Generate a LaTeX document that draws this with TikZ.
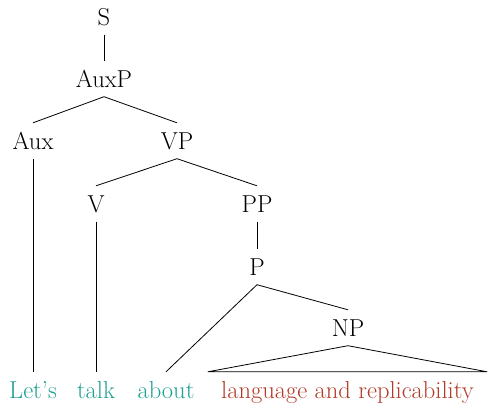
\documentclass[tikz,border=0pt]{standalone}
\definecolor{leafteal}{RGB}{30,160,146}
\definecolor{leafred}{RGB}{176,58,40}
\tikzset{
  lab/.style={anchor=base,font=\fontsize{24.5}{29}\selectfont,inner xsep=2pt,inner ysep=9.5pt,text height=16.5pt,text depth=0pt},
  tealleaf/.style={lab,text=leafteal},
  redleaf/.style={lab,text=leafred},
  br/.style={line width=0.8pt,black}
}
\begin{document}
\begin{tikzpicture}[x=1pt,y=-1pt]
\useasboundingbox (0,0) rectangle (489,413);
\node[lab] (S) at (104,25) {S};
\node[lab] (AuxP) at (104,87) {AuxP};
\node[lab] (Aux) at (33,149) {Aux};
\node[lab] (VP) at (177,149) {VP};
\node[lab] (V) at (96,212) {V};
\node[lab] (PP) at (257,212) {PP};
\node[lab] (P) at (257,275) {P};
\node[lab] (NP) at (348,336) {NP};
\node[tealleaf] (lets) at (33,398) {Let’s};
\node[tealleaf] (talk) at (96,398) {talk};
\node[tealleaf] (about) at (166,398) {about};
\node[redleaf,minimum width=279pt] (lr) at (347.5,398) {language and replicability};
\draw[br] (S.south) -- (AuxP.north);
\draw[br] (AuxP.south) -- (Aux.north);
\draw[br] (AuxP.south) -- (VP.north);
\draw[br] (Aux.south) -- (lets.north);
\draw[br] (VP.south) -- (V.north);
\draw[br] (VP.south) -- (PP.north);
\draw[br] (V.south) -- (talk.north);
\draw[br] (PP.south) -- (P.north);
\draw[br] (P.south) -- (about.north);
\draw[br] (P.south) -- (NP.north);
\draw[br] (NP.south) -- (lr.north west) -- (lr.north east) -- cycle;
\end{tikzpicture}
\end{document}
